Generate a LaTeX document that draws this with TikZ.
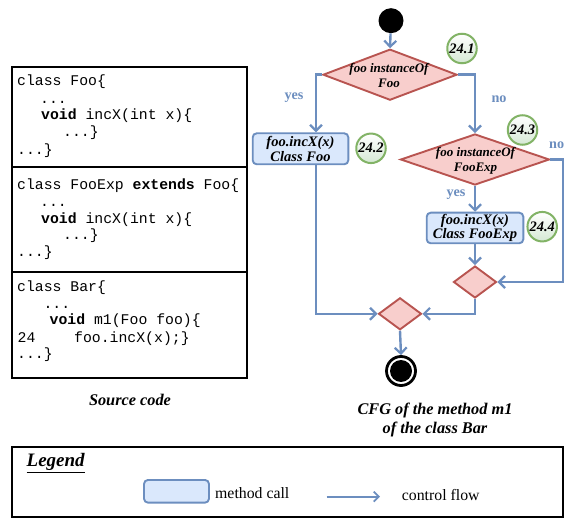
\documentclass[tikz,border=0pt]{standalone}
\usepackage{fontspec}
\setmainfont{Liberation Serif}
\setmonofont{Liberation Mono}
\usetikzlibrary{shapes.geometric,arrows.meta}
\definecolor{flowc}{HTML}{6C8EBF}
\definecolor{boxf}{HTML}{DAE8FC}
\definecolor{boxd}{HTML}{6C8EBF}
\definecolor{diaf}{HTML}{F8CECC}
\definecolor{diad}{HTML}{B85450}
\definecolor{grd}{HTML}{82B366}
\definecolor{grf}{HTML}{D5E8D4}
\tikzset{
  code/.style={anchor=base west, inner sep=0pt, font=\ttfamily\fontsize{14.8}{17}\selectfont},
  flow/.style={draw=flowc, line width=2.4pt, -{Straight Barb[length=6pt,width=12pt,line width=2.2pt]}},
  dia/.style={diamond, draw=diad, fill=diaf, line width=1.9pt, inner sep=0pt, aspect=1},
  diatext/.style={align=center, inner sep=0pt, font=\fontsize{13}{15}\selectfont\bfseries\itshape},
  callbox/.style={rectangle, rounded corners=4pt, draw=boxd, fill=boxf, line width=1.9pt, inner sep=0pt,
     align=center, font=\fontsize{14.5}{14.5}\selectfont\bfseries\itshape},
  num/.style={circle, draw=grd, line width=2pt, top color=white, bottom color=grf, inner sep=0pt,
     minimum size=29.5pt, font=\fontsize{14.5}{15}\selectfont\bfseries\itshape},
  yn/.style={anchor=base, inner sep=0pt, text=flowc, font=\fontsize{14.2}{15}\selectfont\bfseries},
  caption/.style={align=center, inner sep=0pt, font=\fontsize{16.3}{19}\selectfont\bfseries\itshape},
  legtext/.style={anchor=base west, inner sep=0pt, font=\fontsize{15.8}{17}\selectfont},
  frame/.style={draw=black, line width=2pt},
}
\begin{document}
\begin{tikzpicture}[x=1pt,y=-1pt]
\useasboundingbox (0,0) rectangle (567,518);

% ---- source code boxes
\draw[frame] (12,67) rectangle (247,378);
\draw[frame] (12,167) -- (247,167);
\draw[frame] (12,272) -- (247,272);

\node[code] (a1) at (17,86) {class Foo\{};
\node[code] (a2) at (40,103.3) {...};
\node[code] (a3) at (41,120) {\textbf{void} incX(int x)\{};
\node[code] (a4) at (63,136.7) {...\}};
\node[code] (a5) at (17,154.3) {...\}};

\node[code] (b1c) at (17,189.3) {class FooExp \textbf{extends} Foo\{};
\node[code] (b2c) at (40,206.7) {...};
\node[code] (b3c) at (41,223.3) {\textbf{void} incX(int x)\{};
\node[code] (b4c) at (63,240) {...\}};
\node[code] (b5c) at (17,256.7) {...\}};

\node[code] (c1) at (17,291.7) {class Bar\{};
\node[code] (c2) at (43.3,308.3) {...};
\node[code] (c3) at (49.5,324.3) {\textbf{void} m1(Foo foo)\{};
\node[code] (c4) at (17.5,342.7) {24};
\node[code] (c4b) at (74,342.7) {foo.incX(x);\}};
\node[code] (c5) at (17,358.3) {...\}};

\node[caption, anchor=base] (src) at (130,405.7) {Source code};

% ---- CFG
\coordinate (lx) at (316,0);
\coordinate (rx) at (563,0);

\node[circle, fill=black, inner sep=0pt, minimum size=25pt] (start) at (391,20.7) {};

\node[dia, minimum width=134pt, minimum height=51pt] (d1) at (390,74.7) {};
\node[diatext] (d1t) at (389,75.5) {foo instanceOf\\Foo};

\node[callbox, minimum width=95.6pt, minimum height=31pt] (m1) at (300.5,148.8) {foo.incX(x)\\Class Foo};

\node[dia, minimum width=149pt, minimum height=51pt] (d2) at (475,159.5) {};
\node[diatext] (d2t) at (475.5,161.3) {foo instanceOf\\FooExp};

\node[callbox, minimum width=96.6pt, minimum height=30.6pt] (m2) at (475,228) {foo.incX(x)\\Class FooExp};

\node[dia, minimum width=43pt, minimum height=32pt] (d3) at (475,282) {};
\node[dia, minimum width=43pt, minimum height=32pt] (d4) at (400,313.8) {};

\node[circle, draw=black, line width=2.8pt, fill=white, inner sep=0pt, minimum size=29pt] (stop) at (401,371) {};
\fill[black] (stop.center) circle (11pt);

\node[num] (n1) at (462,48.5) {24.1};
\node[num] (n2) at (371,148.3) {24.2};
\node[num] (n3) at (522.5,130) {24.3};
\node[num] (n4) at (542.2,226.7) {24.4};

\node[yn] (y1) at (294,100) {yes};
\node[yn] (no1) at (499,103) {no};
\node[yn] (no2) at (556.7,148.3) {no};
\node[yn] (y2) at (456,196.5) {yes};

\draw[flow] (start) -- (d1.north);
\draw[flow] (d1.west) -| (m1.north -| lx);
\draw[flow] (d1.east) -| (d2.north);
\draw[flow] (d2.south) -- (m2.north);
\draw[flow] (d2.east) -- (d2.east -| rx) |- (d3.east);
\draw[flow] (m2.south) -- (d3.north);
\draw[flow] (d3.south) |- (d4.east);
\draw[flow] (m1.south -| lx) |- (d4.west);
\draw[flow] (d4.south) -- (stop.north);

\node[caption] (cfg) at (435,420) {CFG of the method m1\\of the class Bar};

% ---- legend
\draw[frame] (11.7,447.3) rectangle (563,517);
\node[anchor=base west, inner sep=0pt, font=\fontsize{19}{20}\selectfont\bfseries\itshape] (leg) at (26.5,466.7) {\underline{Legend}};
\node[callbox, minimum width=65pt, minimum height=22.7pt] (lbox) at (176.5,491.3) {};
\node[legtext] (lmc) at (215,498.3) {method call};
\coordinate (la) at (326.7,496.7);
\coordinate (lb) at (380,496.7);
\draw[draw=flowc, line width=1.8pt, -{Straight Barb[length=5pt,width=10pt,line width=1.8pt]}] (la) -- (lb);
\node[legtext] (lcf) at (401.7,500.7) {control flow};
\end{tikzpicture}
\end{document}
